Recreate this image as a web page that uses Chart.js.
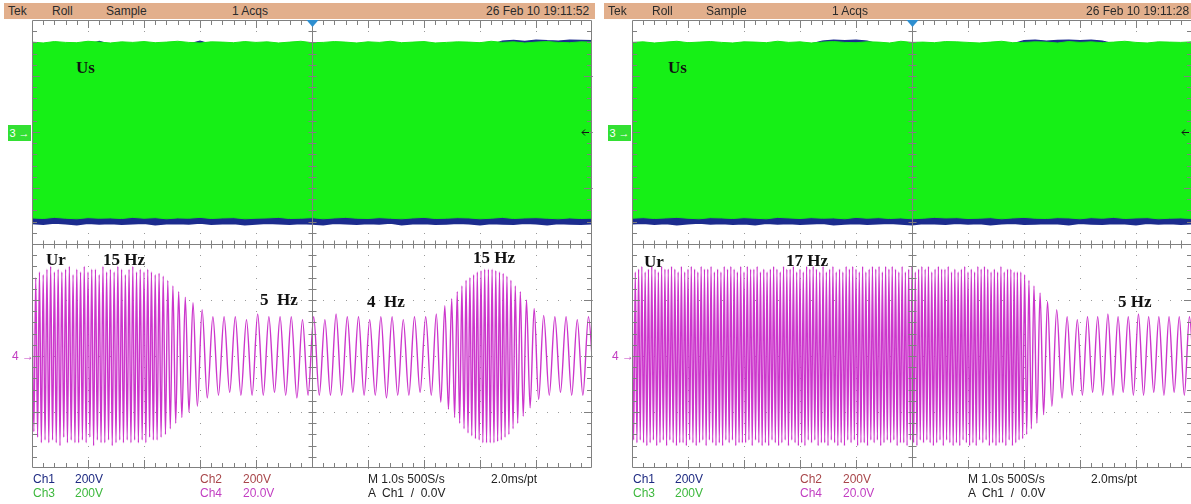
<!DOCTYPE html>
<html>
<head>
<meta charset="utf-8">
<title>Scope captures</title>
<script src="https://cdn.jsdelivr.net/npm/chart.js@4.4.0/dist/chart.umd.min.js"></script>
<style>
  html, body { margin: 0; padding: 0; background: #fff; width: 1191px; height: 504px; overflow: hidden; }
  canvas { position: absolute; top: 0; }
  .hdr { position: absolute; top: 3px; height: 16px; background: #E2AF8C; }
  .t { position: absolute; white-space: pre; font-family: "Liberation Sans", Arial, sans-serif; font-size: 12px; line-height: 14px; color: #2a2a2a; }
  .b { position: absolute; white-space: pre; font-family: "Liberation Sans", Arial, sans-serif; font-size: 12px; line-height: 13px; }
  .note { position: absolute; white-space: pre; font-family: "Liberation Serif", "DejaVu Serif", serif; font-weight: bold; font-size: 17px; line-height: 17px; color: #111; }
  .mk3 { position: absolute; width: 23px; height: 16px; background: #33E033; color: #fff; font-family: "Liberation Sans", sans-serif; font-size: 11px; line-height: 16px; text-align: center; }
  .mk4 { position: absolute; color: #C23EC2; font-family: "Liberation Sans", sans-serif; font-size: 12px; line-height: 14px; white-space: pre; }
</style>
</head>
<body>
<canvas id="scopeLeft" width="600" height="504" style="left:0px;width:600px;height:504px"></canvas>
<canvas id="scopeRight" width="592" height="504" style="left:600px;width:592px;height:504px"></canvas>
<script>
// time base 1.0 s/div, 10 div on screen -> x in ms (0..10000)
// Ch1/Ch3 200 V/div at +2 div, Ch4 20 V/div at -2 div

// sample times of the Ch1/Ch3 band edges (ms)
const edgeMs = [0,200,400,600,800,1000,1200,1400,1600,1800,
  2000,2200,2400,2600,2800,3000,3200,3400,3600,3800,
  4000,4200,4400,4600,4800,5000,5200,5400,5600,5800,
  6000,6200,6400,6600,6800,7000,7200,7400,7600,7800,
  8000,8200,8400,8600,8800,9000,9200,9400,9600,9800,
  10000];

// ---- left capture (19:11:52) ----
const ch3TopLeft = [321,318,323,320,319,324,321,318,322,320,
  323,319,321,324,320,318,322,321,319,323,
  320,322,318,321,324,319,320,323,321,318,
  322,320,324,319,321,323,318,320,322,321,
  319,324,320,322,318,321,323,320,319,322,
  321];
const ch3BottomLeft = [-307,-309,-305,-308,-310,-306,-308,-307,-309,-305,
  -308,-306,-310,-307,-308,-305,-309,-307,-306,-310,
  -308,-307,-305,-309,-308,-306,-310,-307,-305,-308,
  -309,-306,-308,-310,-307,-305,-309,-308,-306,-307,
  -310,-308,-305,-309,-307,-306,-308,-310,-307,-309,
  -308];
const ch1TopLeft = [314,312,316,313,315,312,324,313,314,312,
  316,313,315,312,314,325,313,315,312,314,
  313,316,312,315,314,313,312,316,314,313,
  315,312,314,316,313,315,312,314,313,316,
  315,312,325,327,324,328,326,325,328,327,
  326];
const ch1BottomLeft = [-326,-329,-324,-327,-330,-325,-328,-326,-329,-327,
  -325,-330,-327,-326,-328,-324,-329,-327,-326,-330,
  -328,-325,-327,-329,-326,-328,-330,-325,-327,-329,
  -326,-328,-324,-330,-327,-326,-329,-328,-325,-327,
  -330,-326,-328,-329,-325,-327,-330,-326,-328,-329,
  -327];
// Ch4 (Ur) turning points [ms, V]
const ch4Left = [
  [0,26],[33,-27],[67,28],[100,-29],[133,30],[167,-31],[200,29],[233,-30],[267,31],[300,-31],
  [333,32],[367,-30],[400,30],[433,-31],[467,31],[500,-32],[533,30],[567,-29],[600,31],[633,-31],
  [667,32],[700,-30],[733,29],[767,-31],[800,31],[833,-31],[867,30],[900,-30],[933,32],[967,-31],
  [1000,30],[1033,-29],[1067,31],[1100,-32],[1133,31],[1167,-30],[1200,29],[1233,-31],[1267,32],[1300,-31],
  [1333,30],[1367,-30],[1400,31],[1433,-32],[1467,30],[1500,-31],[1533,32],[1567,-30],[1600,31],[1633,-31],
  [1667,29],[1700,-30],[1733,31],[1767,-31],[1800,32],[1833,-30],[1867,30],[1900,-31],[1933,31],[1967,-30],
  [2000,30],[2033,-31],[2067,31],[2100,-29],[2133,30],[2167,-30],[2200,29],
  [2234,-30],[2269,29.5],[2305,-29],[2343,28.5],[2383,-28],[2425,27],[2469,-26],[2516,25],[2566,-24],
  [2619,23],[2676,-22],[2737,21],[2803,-20],[2875,19],[2953,-18],[3038,16.5],[3130,-15],[3230,14],
  [3330,-14],[3430,14],[3530,-13],[3630,14],[3730,-14],[3830,13],[3930,-14],[4030,15],[4130,-14],[4230,14],
  [4330,-13],[4430,14],[4530,-14],[4630,14],[4730,-15],[4830,13],[4930,-14],[5030,14],[5130,-14],[5230,13],
  [5330,-14],[5430,15],[5530,-14],[5630,14],[5730,-13],[5830,14],[5930,-14],[6030,13],[6130,-14],[6230,14],
  [6330,-15],[6430,14],[6530,-14],[6630,13],[6730,-14],[6830,14],[6930,-13],[7030,14],[7130,-14],
  [7220,15],[7300,-16.5],[7372,18],[7437,-19],[7495,20.5],[7547,-22],[7594,23],[7637,-24],[7677,25],[7715,-26],
  [7751,27],[7786,-27.5],[7820,28],[7853,-28.5],[7886,29],[7919,-29.5],[7952,30],[7985,-30],[8018,30.5],[8051,-31],
  [8084,31],[8117,-31],[8150,31],[8183,-31],[8216,31],[8249,-31],[8282,30.5],[8315,-30.5],[8348,30],[8381,-30],
  [8414,29.5],[8447,-29],[8481,28.5],[8516,-28],[8552,27],[8590,-26],[8630,25],[8673,-24],[8720,23],[8772,-21.5],
  [8830,20],[8895,-18.5],[8967,17],[9047,-15.5],[9137,14.5],[9237,-14],
  [9337,14],[9437,-13],[9537,14],[9637,-14],[9737,13],[9837,-14],[9937,14],[10037,-13]
];

// ---- right capture (19:11:28) ----
const ch3TopRight = [320,322,318,321,324,319,321,323,320,318,
  322,321,319,324,320,322,318,321,323,320,
  319,322,321,318,324,320,321,319,323,322,
  320,318,321,324,319,320,322,321,318,323,
  320,322,319,321,324,320,318,322,321,320,
  322];
const ch3BottomRight = [-308,-306,-309,-307,-305,-308,-310,-306,-307,-309,
  -306,-308,-310,-305,-307,-309,-306,-308,-307,-310,
  -305,-308,-306,-309,-307,-310,-308,-305,-307,-306,
  -309,-308,-306,-310,-307,-305,-308,-309,-306,-307,
  -310,-306,-308,-305,-309,-307,-306,-310,-308,-307,
  -309];
const ch1TopRight = [313,315,312,316,314,313,315,312,314,316,
  313,315,312,314,316,313,315,325,328,326,
  328,325,314,313,315,312,316,314,313,315,
  312,314,316,313,315,326,328,325,327,328,
  326,328,325,315,313,316,314,312,315,313,
  314];
const ch1BottomRight = [-327,-325,-329,-326,-330,-327,-324,-328,-326,-329,
  -327,-330,-325,-328,-326,-329,-327,-325,-330,-328,
  -326,-329,-327,-325,-328,-330,-326,-327,-329,-325,
  -328,-326,-330,-327,-325,-329,-328,-326,-327,-330,
  -325,-328,-329,-326,-327,-330,-325,-328,-326,-329,
  -327];
const ch4Right = [
  [0,29],[29,-30],[59,30],[88,-31],[118,31],[147,-30],[176,32],[206,-31],[235,30],[265,-32],[294,31],[324,-31],[353,32],[382,-30],[412,31],[441,-32],[471,30],
  [500,-31],[529,32],[559,-30],[588,31],[618,-32],[647,31],[676,-30],[706,32],[735,-31],[765,31],[794,-32],[824,30],[853,-31],[882,32],[912,-31],[941,30],[971,-32],
  [1000,31],[1029,-30],[1059,32],[1088,-31],[1118,31],[1147,-32],[1176,30],[1206,-31],[1235,32],[1265,-30],[1294,31],[1324,-32],[1353,31],[1382,-30],[1412,32],[1441,-31],[1471,30],
  [1500,-32],[1529,31],[1559,-31],[1588,30],[1618,-32],[1647,32],[1676,-30],[1706,31],[1735,-31],[1765,32],[1794,-30],[1824,31],[1853,-32],[1882,30],[1912,-31],[1941,32],[1971,-31],
  [2000,30],[2029,-31],[2059,32],[2088,-30],[2118,31],[2147,-32],[2176,31],[2206,-30],[2235,32],[2265,-31],[2294,30],[2324,-32],[2353,31],[2382,-31],[2412,30],[2441,-32],[2471,31],
  [2500,-30],[2529,32],[2559,-31],[2588,31],[2618,-32],[2647,30],[2676,-31],[2706,32],[2735,-30],[2765,31],[2794,-32],[2824,31],[2853,-30],[2882,32],[2912,-31],[2941,30],[2971,-32],
  [3000,31],[3029,-31],[3059,30],[3088,-32],[3118,32],[3147,-30],[3176,31],[3206,-31],[3235,32],[3265,-30],[3294,31],[3324,-32],[3353,30],[3382,-31],[3412,32],[3441,-31],[3471,30],
  [3500,-32],[3529,31],[3559,-30],[3588,32],[3618,-31],[3647,30],[3676,-32],[3706,31],[3735,-31],[3765,30],[3794,-32],[3824,32],[3853,-30],[3882,31],[3912,-31],[3941,32],[3971,-30],
  [4000,31],[4029,-32],[4059,30],[4088,-31],[4118,32],[4147,-31],[4176,30],[4206,-32],[4235,31],[4265,-30],[4294,32],[4324,-31],[4353,31],[4382,-30],[4412,32],[4441,-32],[4471,30],
  [4500,-31],[4529,32],[4559,-30],[4588,31],[4618,-31],[4647,32],[4676,-30],[4706,31],[4735,-32],[4765,30],[4794,-31],[4824,32],[4853,-31],[4882,30],[4912,-32],[4941,31],[4971,-30],
  [5000,32],[5029,-31],[5059,30],[5088,-32],[5118,31],[5147,-30],[5176,32],[5206,-31],[5235,31],[5265,-30],[5294,32],[5324,-31],[5353,30],[5382,-32],[5412,31],[5441,-31],[5471,32],
  [5500,-30],[5529,31],[5559,-32],[5588,31],[5618,-30],[5647,32],[5676,-31],[5706,30],[5735,-32],[5765,31],[5794,-31],[5824,30],[5853,-32],[5882,31],[5912,-30],[5941,32],[5971,-31],
  [6000,30],[6029,-32],[6059,31],[6088,-31],[6118,30],[6147,-32],[6176,32],[6206,-30],[6235,31],[6265,-31],[6294,32],[6324,-30],[6353,31],[6382,-32],[6412,30],[6441,-31],[6471,31],
  [6500,-32],[6529,30],[6559,-31],[6588,32],[6618,-31],[6647,30],[6676,-32],[6706,31],[6735,-30],[6765,31],[6794,-32],[6824,30],[6853,-31],[6882,30],
  [6912,-30],[6943,30],[6976,-29.5],[7011,29],[7048,-28],[7088,27],[7131,-26],[7178,25],[7230,-24],[7287,22.5],
  [7350,-21],[7420,19.5],[7498,-18],[7584,16.5],[7679,-15],[7770,14],
  [7861,-14],[7952,13],[8043,-14],[8134,14],[8225,-13],[8316,14],[8407,-14],[8498,15],[8589,-14],[8680,14],
  [8771,-13],[8862,14],[8953,-14],[9044,15],[9135,-14],[9226,14],[9317,-13],[9408,14],[9499,-14],[9590,14],
  [9681,-13],[9772,14],[9863,-14],[9954,14],[10045,-13]
];

// ---- text on screen ----
const headerLeft = ['Tek', 'Roll', 'Sample', '1 Acqs', '26 Feb 10 19:11:52'];
const headerRight = ['Tek', 'Roll', 'Sample', '1 Acqs', '26 Feb 10 19:11:28'];
const headerX = [8, 52, 106, 232, 486];
const footRow1 = [['Ch1', '#1E2A82'], ['200V', '#1E2A82'], ['Ch2', '#A8464A'], ['200V', '#A8464A'], ['M 1.0s 500S/s', '#222'], ['2.0ms/pt', '#222']];
const footRow2 = [['Ch3', '#3DB83D'], ['200V', '#3DB83D'], ['Ch4', '#C23EC2'], ['20.0V', '#C23EC2'], ['A  Ch1  /  0.0V', '#222']];
const footX = [33, 75, 200, 243, 368, 491];
const notesLeft = [['Us', 76, 59], ['Ur', 46, 251], ['15 Hz', 103, 251], ['5  Hz', 260, 291], ['4  Hz', 367, 293], ['15 Hz', 473, 249]];
const notesRight = [['Us', 68, 59], ['Ur', 44, 253], ['17 Hz', 186, 252], ['5 Hz', 518, 293]];

function addText(cls, x, y, text, color) {
  const el = document.createElement('div');
  el.className = cls;
  el.style.left = x + 'px';
  el.style.top = y + 'px';
  if (color) el.style.color = color;
  el.textContent = text;
  document.body.appendChild(el);
  return el;
}

function pts(xs, ys) {
  return xs.map((t, i) => ({ x: t, y: ys[i] }));
}

// graticule: dotted divisions, border ticks, centre cross, trigger marks
const graticule = {
  id: 'graticule',
  beforeDatasetsDraw(chart) {
    const { ctx, scales: { x, y4 } } = chart;
    ctx.save();
    ctx.fillStyle = '#9a9a9a';
    for (let ms = 1000; ms < 10000; ms += 1000) {
      if (ms === 5000) continue;
      const px = Math.round(x.getPixelForValue(ms));
      for (let v = -40; v <= 120; v += 4) {
        ctx.fillRect(px, Math.round(y4.getPixelForValue(v)), 1, 1);
      }
    }
    for (let v = -20; v <= 100; v += 20) {
      if (v === 40) continue;
      const py = Math.round(y4.getPixelForValue(v));
      for (let ms = 0; ms <= 10000; ms += 200) {
        ctx.fillRect(Math.round(x.getPixelForValue(ms)), py, 1, 1);
      }
    }
    ctx.restore();
  },
  afterDatasetsDraw(chart) {
    const { ctx, chartArea: a, scales: { x, y3, y4 } } = chart;
    const cx = Math.round(x.getPixelForValue(5000)) + 0.5;
    const cy = Math.round(y4.getPixelForValue(40)) + 0.5;
    ctx.save();
    ctx.strokeStyle = '#808080';
    ctx.lineWidth = 1;
    ctx.beginPath();
    ctx.rect(Math.round(a.left) + 0.5, Math.round(a.top) + 0.5, Math.round(a.right - a.left) - 1, Math.round(a.bottom - a.top) - 1);
    ctx.moveTo(cx, a.top); ctx.lineTo(cx, a.bottom);
    ctx.moveTo(a.left, cy); ctx.lineTo(a.right, cy);
    for (let ms = 200; ms < 10000; ms += 200) {
      const px = Math.round(x.getPixelForValue(ms)) + 0.5;
      const len = ms % 1000 === 0 ? 8 : 5;
      ctx.moveTo(px, a.top); ctx.lineTo(px, a.top + len);
      ctx.moveTo(px, a.bottom); ctx.lineTo(px, a.bottom - len);
      ctx.moveTo(px, cy - 4); ctx.lineTo(px, cy + 4);
    }
    for (let v = -36; v < 120; v += 4) {
      const py = Math.round(y4.getPixelForValue(v)) + 0.5;
      const len = v % 20 === 0 ? 8 : 5;
      ctx.moveTo(a.left, py); ctx.lineTo(a.left + len, py);
      ctx.moveTo(a.right, py); ctx.lineTo(a.right - len, py);
      ctx.moveTo(cx - 4, py); ctx.lineTo(cx + 4, py);
    }
    ctx.stroke();
    // trigger position
    ctx.fillStyle = '#2F8FD0';
    ctx.beginPath();
    ctx.moveTo(cx - 6, a.top); ctx.lineTo(cx + 6, a.top); ctx.lineTo(cx, a.top + 7);
    ctx.closePath(); ctx.fill();
    // trigger level arrow on the right edge
    const ly = Math.round(y3.getPixelForValue(0)) + 0.5;
    ctx.strokeStyle = '#111';
    ctx.beginPath();
    ctx.moveTo(a.right - 10, ly); ctx.lineTo(a.right - 3, ly);
    ctx.moveTo(a.right - 10, ly); ctx.lineTo(a.right - 7, ly - 3);
    ctx.moveTo(a.right - 10, ly); ctx.lineTo(a.right - 7, ly + 3);
    ctx.stroke();
    ctx.restore();
  }
};

function scopeChart(id, padding, d) {
  return new Chart(document.getElementById(id), {
    type: 'line',
    data: {
      datasets: [
        { data: pts(edgeMs, d.ch1Top), yAxisID: 'y3', borderColor: '#1C2C8E', backgroundColor: '#1C2C8E', borderWidth: 1.2, fill: '+1', order: 4 },
        { data: pts(edgeMs, d.ch1Bottom), yAxisID: 'y3', borderColor: '#1C2C8E', borderWidth: 2, fill: false, order: 3 },
        { data: pts(edgeMs, d.ch3Top), yAxisID: 'y3', borderColor: '#14E814', backgroundColor: '#16F016', borderWidth: 1, fill: '+1', order: 2 },
        { data: pts(edgeMs, d.ch3Bottom), yAxisID: 'y3', borderColor: '#14E814', borderWidth: 1, fill: false, order: 1 },
        { data: d.ch4.map(([t, v]) => ({ x: t, y: v })), yAxisID: 'y4', borderColor: '#CC36CC', borderWidth: 1.4, cubicInterpolationMode: 'monotone', fill: false, order: 0 }
      ]
    },
    options: {
      responsive: false,
      animation: false,
      devicePixelRatio: 1,
      layout: { padding },
      elements: { point: { radius: 0 } },
      plugins: { legend: { display: false }, tooltip: { enabled: false } },
      scales: {
        x: { type: 'linear', min: 0, max: 10000, display: false },
        y3: { type: 'linear', min: -1200, max: 400, display: false },
        y4: { type: 'linear', min: -40, max: 120, display: false }
      }
    },
    plugins: [graticule]
  });
}

function decorate(ox, header, notes) {
  const bar = document.createElement('div');
  bar.className = 'hdr';
  bar.style.left = (ox + 4) + 'px';
  bar.style.width = (ox === 0 ? 591 : 587) + 'px';
  document.body.appendChild(bar);
  header.forEach((s, i) => addText('t', ox + headerX[i], 4, s));
  footRow1.forEach(([s, c], i) => addText('b', ox + footX[i], 473, s, c));
  footRow2.forEach(([s, c], i) => addText('b', ox + footX[i], 487, s, c));
  notes.forEach(([s, nx, ny]) => addText('note', (ox === 0 ? 0 : 600) + nx, ny, s));
  addText('mk3', ox + 8, 125, '3 \u2192');
  addText('mk4', ox + 12, 349, '4 \u2192');
}

function init() {
  scopeChart('scopeLeft', { left: 32, top: 20, right: 8, bottom: 36 },
    { ch1Top: ch1TopLeft, ch1Bottom: ch1BottomLeft, ch3Top: ch3TopLeft, ch3Bottom: ch3BottomLeft, ch4: ch4Left });
  scopeChart('scopeRight', { left: 32, top: 20, right: 0, bottom: 36 },
    { ch1Top: ch1TopRight, ch1Bottom: ch1BottomRight, ch3Top: ch3TopRight, ch3Bottom: ch3BottomRight, ch4: ch4Right });
  decorate(0, headerLeft, notesLeft);
  decorate(600, headerRight, notesRight);
}

document.addEventListener('DOMContentLoaded', init);
</script>
</body>
</html>
